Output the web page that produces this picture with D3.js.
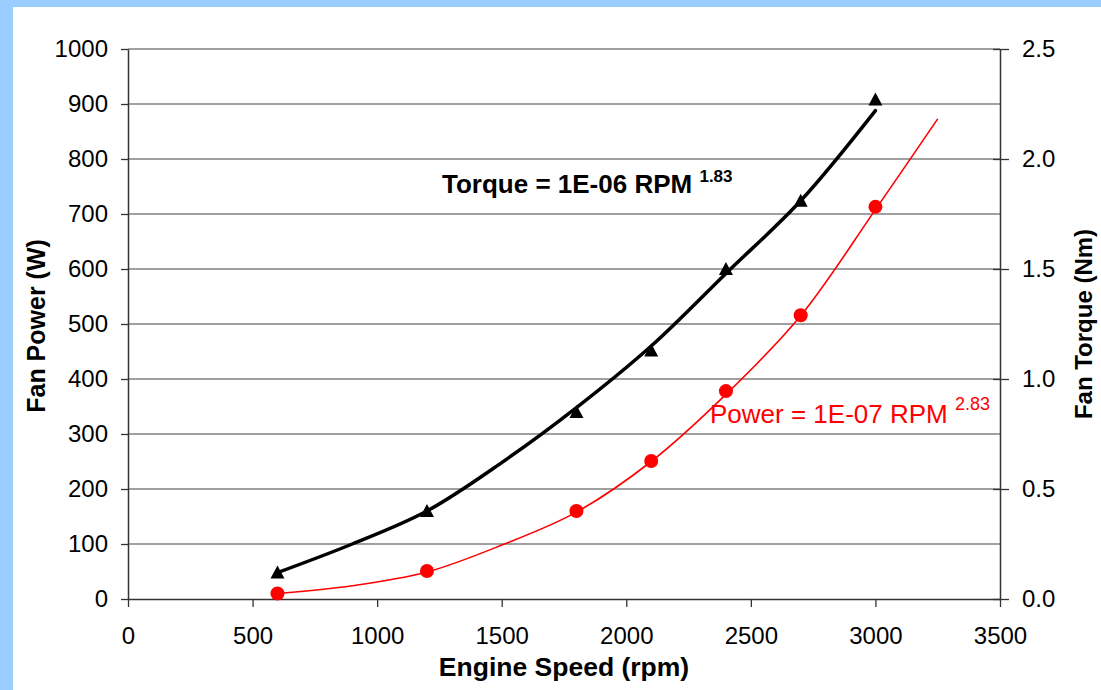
<!DOCTYPE html>
<html>
<head>
<meta charset="utf-8">
<script src="https://cdn.jsdelivr.net/npm/d3@7"></script>
<style>
  body { margin: 0; background: #99ccff; }
  svg { display: block; font-family: "Liberation Sans", Arial, sans-serif; }
</style>
</head>
<body>
<script>
const w = 1101;
const h = 690;

// measured points
const rpm = [600, 1200, 1800, 2100, 2400, 2700, 3000];
const torque = [0.12, 0.40, 0.85, 1.13, 1.50, 1.81, 2.27];
const power = [10, 51, 160, 251, 378, 516, 713];

// trend lines
const torqueFitRpm = [600, 900, 1200, 1500, 1800, 2100, 2400, 2700, 3000];
const torqueFit = [0.12, 0.25, 0.40, 0.62, 0.87, 1.15, 1.48, 1.81, 2.22];
const powerFitRpm = [600, 900, 1200, 1500, 1800, 2100, 2400, 2700, 3000, 3250];
const powerFit = [10, 24, 49, 98, 158, 250, 372, 515, 708, 873];

const xTicks = [0, 500, 1000, 1500, 2000, 2500, 3000, 3500];
const leftTicks = [0, 100, 200, 300, 400, 500, 600, 700, 800, 900, 1000];
const rightTicks = [0, 0.5, 1.0, 1.5, 2.0, 2.5];

const pLeft = 128, pRight = 1000, pTop = 49, pBottom = 599;

const svg = d3.select("body")
  .append("svg")
  .attr("width", w)
  .attr("height", h);

// white panel inside the blue frame
svg.append("rect")
  .attr("x", 13).attr("y", 7)
  .attr("width", w - 13).attr("height", h - 7)
  .attr("fill", "#fff");

const x = d3.scaleLinear().domain([0, 3500]).range([pLeft, pRight]);
const yL = d3.scaleLinear().domain([0, 1000]).range([pBottom, pTop]);
const yR = d3.scaleLinear().domain([0, 2.5]).range([pBottom, pTop]);

// gridlines
svg.append("g")
  .selectAll("line")
  .data(leftTicks.filter(d => d > 0))
  .enter()
  .append("line")
  .attr("x1", pLeft).attr("x2", pRight)
  .attr("y1", d => yL(d)).attr("y2", d => yL(d))
  .attr("stroke", "#808080")
  .attr("stroke-width", 1.3);

function styleAxis(g) {
  g.select(".domain").attr("stroke", "#333").attr("stroke-width", 1.5);
  g.selectAll(".tick line").attr("stroke", "#333").attr("stroke-width", 1.3);
  g.selectAll(".tick text").attr("fill", "#000").style("font-size", "24px");
}

// left axis
svg.append("g")
  .attr("transform", "translate(" + pLeft + ",0)")
  .call(d3.axisLeft(yL).tickValues(leftTicks).tickFormat(d3.format("d"))
    .tickSizeInner(7).tickSizeOuter(0).tickPadding(13))
  .call(styleAxis);

// right axis, ticks cross the line
const rAxis = svg.append("g")
  .attr("transform", "translate(" + pRight + ",0)")
  .call(d3.axisRight(yR).tickValues(rightTicks).tickFormat(d3.format(".1f"))
    .tickSizeInner(9).tickSizeOuter(0).tickPadding(13))
  .call(styleAxis);
rAxis.selectAll(".tick line").attr("x1", -7);

// bottom axis
svg.append("g")
  .attr("transform", "translate(0," + pBottom + ")")
  .call(d3.axisBottom(x).tickValues(xTicks).tickFormat(d3.format("d"))
    .tickSizeInner(8).tickSizeOuter(0).tickPadding(20))
  .call(styleAxis);

// trend lines
const torqueLine = d3.line()
  .x((d, i) => x(torqueFitRpm[i]))
  .y(d => yR(d))
  .curve(d3.curveCatmullRom);

const powerLine = d3.line()
  .x((d, i) => x(powerFitRpm[i]))
  .y(d => yL(d))
  .curve(d3.curveCatmullRom);

svg.append("path")
  .attr("d", torqueLine(torqueFit))
  .attr("fill", "none")
  .attr("stroke", "#000")
  .attr("stroke-width", 3.5)
  .attr("stroke-linecap", "round");

svg.append("path")
  .attr("d", powerLine(powerFit))
  .attr("fill", "none")
  .attr("stroke", "#ff0000")
  .attr("stroke-width", 1.6);

// markers
svg.append("g").selectAll("path")
  .data(torque)
  .enter()
  .append("path")
  .attr("transform", (d, i) => "translate(" + x(rpm[i]) + "," + yR(d) + ")")
  .attr("d", "M0,-7L7,6L-7,6Z")
  .attr("fill", "#000");

svg.append("g").selectAll("circle")
  .data(power)
  .enter()
  .append("circle")
  .attr("cx", (d, i) => x(rpm[i]))
  .attr("cy", d => yL(d))
  .attr("r", 7)
  .attr("fill", "#ff0000");

// equation labels
const tq = svg.append("text")
  .attr("x", 442).attr("y", 193)
  .attr("font-weight", "bold")
  .style("font-size", "26px")
  .attr("fill", "#000");
tq.append("tspan").text("Torque = 1E-06 RPM ");
tq.append("tspan").attr("dy", -11).style("font-size", "17px").text("1.83");

const pw = svg.append("text")
  .attr("x", 710).attr("y", 423)
  .style("font-size", "26px")
  .attr("fill", "#ff0000");
pw.append("tspan").text("Power = 1E-07 RPM ");
pw.append("tspan").attr("dy", -13).style("font-size", "18px").text("2.83");

// axis titles
svg.append("text")
  .attr("x", (pLeft + pRight) / 2).attr("y", 676)
  .attr("text-anchor", "middle")
  .attr("font-weight", "bold")
  .style("font-size", "26.5px")
  .text("Engine Speed (rpm)");

svg.append("text")
  .attr("transform", "translate(45," + ((pTop + pBottom) / 2 + 2) + ") rotate(-90)")
  .attr("text-anchor", "middle")
  .attr("font-weight", "bold")
  .style("font-size", "25px")
  .text("Fan Power (W)");

svg.append("text")
  .attr("transform", "translate(1092," + ((pTop + pBottom) / 2) + ") rotate(-90)")
  .attr("text-anchor", "middle")
  .attr("font-weight", "bold")
  .style("font-size", "24px")
  .text("Fan Torque (Nm)");
</script>
</body>
</html>
